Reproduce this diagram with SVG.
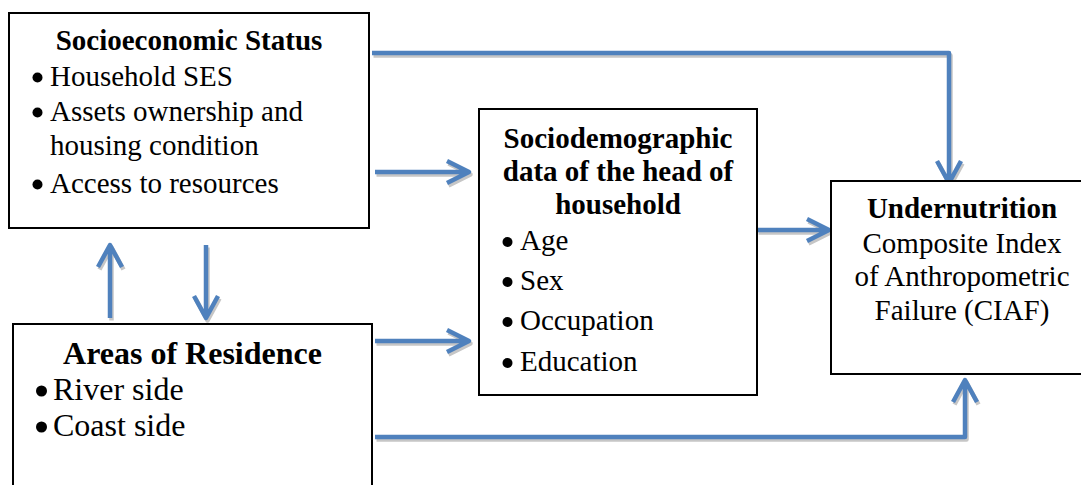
<svg xmlns="http://www.w3.org/2000/svg" xmlns:xlink="http://www.w3.org/1999/xlink" width="1081" height="485" viewBox="0 0 1081 485">
<style>
.box{fill:#fff;stroke:#000;stroke-width:2}
.t{font-family:"Liberation Serif","Times New Roman",serif;font-size:29px;fill:#000}
.b{font-weight:bold}
.c{text-anchor:middle}
.big{font-size:32px}
.dot{fill:#000}
.arr{fill:none;stroke:#4f81bd;stroke-width:4.5;stroke-linejoin:round}
.sh{fill:none;stroke:#c6c6c6;stroke-width:4.5;stroke-linejoin:round}
</style>
<defs>
<g id="arrows">
<path id="a1" d="M372,53 H949 V181 M937,161 L949,183 L961,161"/>
<path id="a2" d="M375,172 H467 M447,161 L469,172 L447,183"/>
<path id="a3" d="M757,230 H827 M807,219 L829,230 L807,241"/>
<path id="a4" d="M375,341 H467 M447,330 L469,341 L447,352"/>
<path id="a5" d="M110,318 V247 M98,267 L110,245 L122,267"/>
<path id="a6" d="M206,245 V316 M194,296 L206,318 L218,296"/>
<path id="a7" d="M375,437 H965 V382 M953,402 L965,380 L977,402"/>
</g>
</defs>
<g id="connectors">
<use xlink:href="#arrows" href="#arrows" class="sh" transform="translate(1.5,2.5)"/>
<use xlink:href="#arrows" href="#arrows" class="arr"/>
</g>
<g id="ses">
<rect class="box" x="9" y="13" width="360" height="215"/>
<text class="t b c" x="189" y="50">Socioeconomic Status</text>
<circle class="dot" cx="37.5" cy="77.5" r="5"/>
<text class="t" x="50" y="86">Household SES</text>
<circle class="dot" cx="37.5" cy="112.5" r="5"/>
<text class="t" x="50" y="121">Assets ownership and</text>
<text class="t" x="50" y="155">housing condition</text>
<circle class="dot" cx="37.5" cy="184.5" r="5"/>
<text class="t" x="50" y="193">Access to resources</text>
</g>
<g id="socio">
<rect class="box" x="479" y="109" width="278" height="286"/>
<text class="t b c" x="618" y="148">Sociodemographic</text>
<text class="t b c" x="618" y="181">data of the head of</text>
<text class="t b c" x="618" y="214">household</text>
<circle class="dot" cx="507.5" cy="242" r="5"/>
<text class="t" x="520" y="250">Age</text>
<circle class="dot" cx="507.5" cy="282" r="5"/>
<text class="t" x="520" y="290">Sex</text>
<circle class="dot" cx="507.5" cy="322" r="5"/>
<text class="t" x="520" y="330">Occupation</text>
<circle class="dot" cx="507.5" cy="363" r="5"/>
<text class="t" x="520" y="371">Education</text>
</g>
<g id="areas">
<rect class="box" x="13" y="324" width="359" height="200"/>
<text class="t b c big" x="192.5" y="364">Areas of Residence</text>
<circle class="dot" cx="41.5" cy="391" r="5.5"/>
<text class="t big" x="53" y="400">River side</text>
<circle class="dot" cx="41.5" cy="427" r="5.5"/>
<text class="t big" x="53" y="436">Coast side</text>
</g>
<g id="under">
<rect class="box" x="831" y="181" width="270" height="193"/>
<text class="t b c" x="962" y="218">Undernutrition</text>
<text class="t c" x="962" y="253">Composite Index</text>
<text class="t c" x="962" y="286">of Anthropometric</text>
<text class="t c" x="962" y="320">Failure (CIAF)</text>
</g>
</svg>
